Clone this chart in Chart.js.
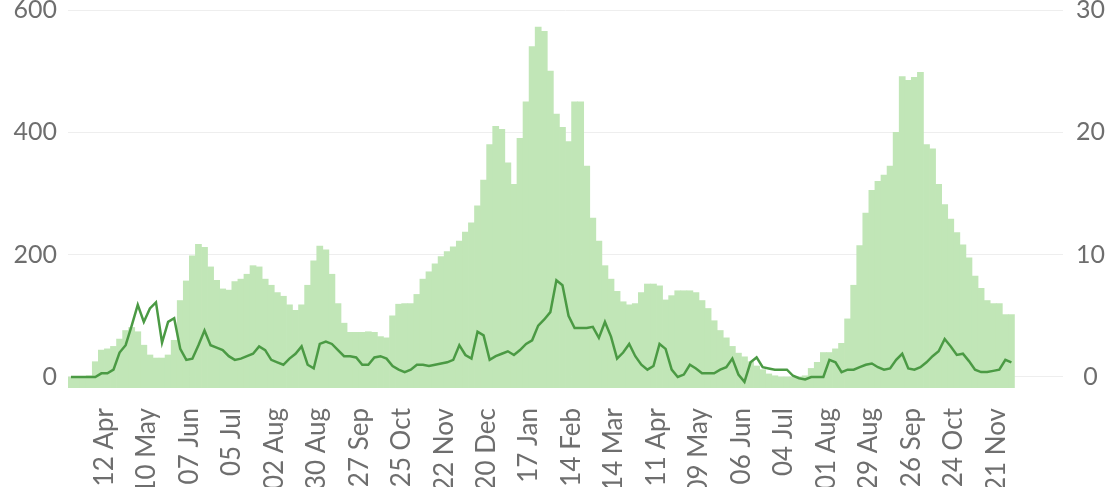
<!DOCTYPE html>
<html>
<head>
<meta charset="utf-8">
<script src="https://cdn.jsdelivr.net/npm/chart.js@4/dist/chart.umd.min.js"></script>
<style>
  html, body { margin: 0; padding: 0; background: #fff; }
  #wrap { width: 1110px; height: 487px; position: relative; }
</style>
</head>
<body>
<div id="wrap"><canvas id="chart"></canvas></div>
<script>
// x is counted in days from 19 Mar 2020, one bar / point every 4 days
const step = 4;

// daily cases (left axis)
const cases = [0,0,0,2,25,44,46,50,62,76,
  81,74,52,36,31,31,36,60,125,157,
  198,217,212,180,158,144,142,156,160,168,
  182,180,160,150,138,132,118,109,118,150,
  190,214,208,168,120,88,73,73,73,74,
  73,66,64,100,119,120,120,135,160,172,
  185,197,205,213,222,237,252,280,322,380,
  410,405,350,315,390,450,540,572,565,500,
  430,408,385,450,450,345,260,222,182,160,
  140,123,118,120,138,152,152,149,126,133,
  141,141,141,138,125,112,92,76,64,50,
  39,33,25,18,12,5,2,0,0,0,
  0,2,14,24,40,40,46,55,95,150,
  215,268,305,320,330,345,400,491,485,490,
  498,380,373,315,282,258,236,216,195,165,
  145,125,120,120,102,102];

// deaths (right axis)
const deaths = [0,0,0,0,0,0.3,0.3,0.6,2.0,2.6,
  4.2,5.9,4.5,5.6,6.1,2.8,4.5,4.8,2.3,1.4,
  1.5,2.6,3.8,2.6,2.4,2.2,1.7,1.4,1.5,1.7,
  1.9,2.5,2.2,1.4,1.2,1.0,1.5,1.9,2.5,1.0,
  0.7,2.7,2.9,2.7,2.2,1.7,1.7,1.6,1.0,1.0,
  1.6,1.7,1.5,0.9,0.6,0.4,0.6,1.0,1.0,0.9,
  1.0,1.1,1.2,1.4,2.6,1.8,1.5,3.7,3.4,1.4,
  1.7,1.9,2.1,1.8,2.2,2.7,3.0,4.2,4.7,5.3,
  7.9,7.5,5.0,4.0,4.0,4.0,4.1,3.2,4.5,3.3,
  1.5,2.0,2.7,1.7,1.0,0.6,0.9,2.7,2.3,0.6,
  0,0.2,1.0,0.7,0.3,0.3,0.3,0.6,0.8,1.5,
  0.2,-0.4,1.2,1.6,0.8,0.7,0.6,0.6,0.6,0.1,
  -0.1,-0.2,0,0,0,1.4,1.2,0.4,0.6,0.6,
  0.8,1.0,1.1,0.8,0.6,0.7,1.4,1.9,0.7,0.6,
  0.8,1.2,1.7,2.1,3.1,2.5,1.8,1.9,1.3,0.6,
  0.4,0.4,0.5,0.6,1.4,1.2];

const tickLabels = ['12 Apr','10 May','07 Jun','05 Jul','02 Aug','30 Aug','27 Sep','25 Oct',
  '22 Nov','20 Dec','17 Jan','14 Feb','14 Mar','11 Apr','09 May','06 Jun','04 Jul',
  '01 Aug','29 Aug','26 Sep','24 Oct','21 Nov'];
const tickDays = tickLabels.map((l, i) => 24 + 28 * i);
const leftTicks = [0, 200, 400, 600];
const rightTicks = [0, 10, 20, 30];

const grey = '#6e6e6e';

// keep the plot box fixed, whatever the labels measure
function fixX(s) { s.height = 99; s.paddingLeft = 0; s.paddingRight = 0; }
function fixY(w) { return s => { s.width = w; s.paddingTop = 0; s.paddingBottom = 0; }; }

let ctx = document.getElementById('chart').getContext('2d');
new Chart(ctx, {
  data: {
    datasets: [
      {
        type: 'line',
        data: deaths.map((v, i) => ({ x: i * step + step / 2, y: v })),
        yAxisID: 'y1',
        borderColor: '#4b9a44',
        borderWidth: 2.5,
        pointRadius: 0,
        tension: 0,
        order: 0
      },
      {
        type: 'bar',
        data: cases.map((v, i) => ({ x: i * step + step / 2, y: v })),
        yAxisID: 'y',
        backgroundColor: '#c1e6b7',
        borderWidth: 0,
        barPercentage: 1,
        categoryPercentage: 1,
        base: -18,
        order: 1
      }
    ]
  },
  options: {
    responsive: true,
    maintainAspectRatio: false,
    animation: false,
    layout: { autoPadding: false, padding: { top: 10, left: 0, right: 0, bottom: 0 } },
    plugins: { legend: { display: false }, tooltip: { enabled: false } },
    scales: {
      x: {
        type: 'linear',
        offset: false,
        min: 0,
        max: 656,
        grid: { display: false, offset: false },
        border: { display: false },
        afterBuildTicks: s => { s.ticks = tickDays.map(v => ({ value: v })); },
        afterFit: fixX,
        ticks: {
          autoSkip: false,
          minRotation: 90,
          maxRotation: 90,
          padding: 12,
          color: grey,
          font: { family: 'Lato', size: 26 },
          callback: (v) => tickLabels[tickDays.indexOf(v)]
        }
      },
      y: {
        position: 'left',
        min: -18,
        max: 600,
        grid: { color: '#eeeeee', drawTicks: false, lineWidth: 1 },
        border: { display: false },
        afterBuildTicks: s => { s.ticks = leftTicks.map(v => ({ value: v })); },
        afterFit: fixY(68),
        ticks: { padding: 11, color: grey, font: { family: 'Lato', size: 25 } }
      },
      y1: {
        position: 'right',
        min: -0.9,
        max: 30,
        grid: { display: false },
        border: { display: false },
        afterBuildTicks: s => { s.ticks = rightTicks.map(v => ({ value: v })); },
        afterFit: fixY(47),
        ticks: { padding: 5, crossAlign: 'center', color: grey, font: { family: 'Lato', size: 25 } }
      }
    }
  }
});
</script>
</body>
</html>
